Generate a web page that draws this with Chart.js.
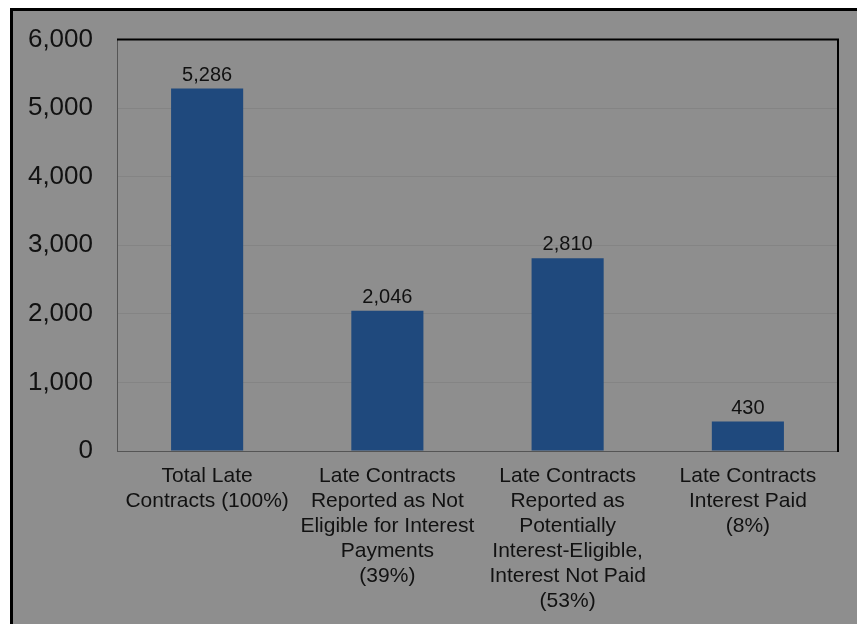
<!DOCTYPE html>
<html>
<head>
<meta charset="utf-8">
<script src="https://cdn.jsdelivr.net/npm/chart.js@4/dist/chart.umd.min.js"></script>
<style>
  html, body { margin: 0; padding: 0; background: #ffffff; }
  #wrap { width: 857px; height: 624px; position: relative; }
</style>
</head>
<body>
<div id="wrap"><canvas id="c" width="857" height="624"></canvas></div>
<script>
// Late contract counts by interest-payment status
const categories = [
  ['Total Late', 'Contracts (100%)'],
  ['Late Contracts', 'Reported as Not', 'Eligible for Interest', 'Payments', '(39%)'],
  ['Late Contracts', 'Reported as', 'Potentially', 'Interest-Eligible,', 'Interest Not Paid', '(53%)'],
  ['Late Contracts', 'Interest Paid', '(8%)']
];
const contractCounts = [5286, 2046, 2810, 430];
const yTicks = [0, 1000, 2000, 3000, 4000, 5000, 6000];

const FONT = '"Liberation Sans", Arial, sans-serif';
const BG = '#8e8e8e';

// Grey panel with a black frame on the left and top edges
const panelPlugin = {
  id: 'panel',
  beforeDraw(chart) {
    const ctx = chart.ctx;
    ctx.save();
    ctx.fillStyle = '#ffffff';
    ctx.fillRect(0, 0, chart.width, chart.height);
    ctx.fillStyle = BG;
    ctx.fillRect(11, 9, chart.width - 11, chart.height - 9);
    ctx.strokeStyle = '#000000';
    ctx.lineWidth = 3;
    ctx.beginPath();
    ctx.moveTo(11.5, chart.height);
    ctx.lineTo(11.5, 9.5);
    ctx.lineTo(chart.width, 9.5);
    ctx.stroke();
    ctx.restore();
  },
  afterDraw(chart) {
    // heavy top and right edges of the plot frame
    const a = chart.chartArea;
    const ctx = chart.ctx;
    ctx.save();
    ctx.strokeStyle = '#000000';
    ctx.lineWidth = 2;
    ctx.beginPath();
    ctx.moveTo(a.left, a.top);
    ctx.lineTo(a.right, a.top);
    ctx.lineTo(a.right, a.bottom + 1);
    ctx.stroke();
    ctx.restore();
  }
};

// Value labels above each bar
const valueLabels = {
  id: 'valueLabels',
  afterDatasetsDraw(chart) {
    const ctx = chart.ctx;
    const meta = chart.getDatasetMeta(0);
    ctx.save();
    ctx.font = '20px ' + FONT;
    ctx.fillStyle = '#111111';
    ctx.textAlign = 'center';
    ctx.textBaseline = 'alphabetic';
    meta.data.forEach((bar, i) => {
      ctx.fillText(contractCounts[i].toLocaleString('en-US'), bar.x, bar.y - 8);
    });
    ctx.restore();
  }
};

new Chart(document.getElementById('c'), {
  type: 'bar',
  data: {
    labels: categories,
    datasets: [{
      data: contractCounts,
      backgroundColor: '#1f497d',
      borderWidth: 0,
      barPercentage: 0.8,
      categoryPercentage: 0.5
    }]
  },
  options: {
    responsive: false,
    animation: false,
    layout: { padding: { top: 38, right: 19, left: 0, bottom: 0 } },
    plugins: { legend: { display: false }, tooltip: { enabled: false } },
    scales: {
      x: {
        grid: { display: false, drawTicks: false },
        border: { display: true, color: '#555555', width: 1 },
        ticks: {
          color: '#111111',
          font: { family: FONT, size: 21, lineHeight: '25px' },
          padding: 13,
          maxRotation: 0,
          autoSkip: false
        },
        afterFit(scale) { scale.height = 173; }
      },
      y: {
        min: 0,
        max: 6000,
        afterBuildTicks(scale) { scale.ticks = yTicks.map(v => ({ value: v })); },
        grid: { color: '#848484', lineWidth: 1, drawTicks: false },
        border: { display: true, color: '#555555', width: 1 },
        ticks: {
          color: '#111111',
          font: { family: FONT, size: 26 },
          padding: 24,
          callback: v => v.toLocaleString('en-US')
        },
        afterFit(scale) { scale.width = 117; }
      }
    }
  },
  plugins: [panelPlugin, valueLabels]
});
</script>
</body>
</html>
